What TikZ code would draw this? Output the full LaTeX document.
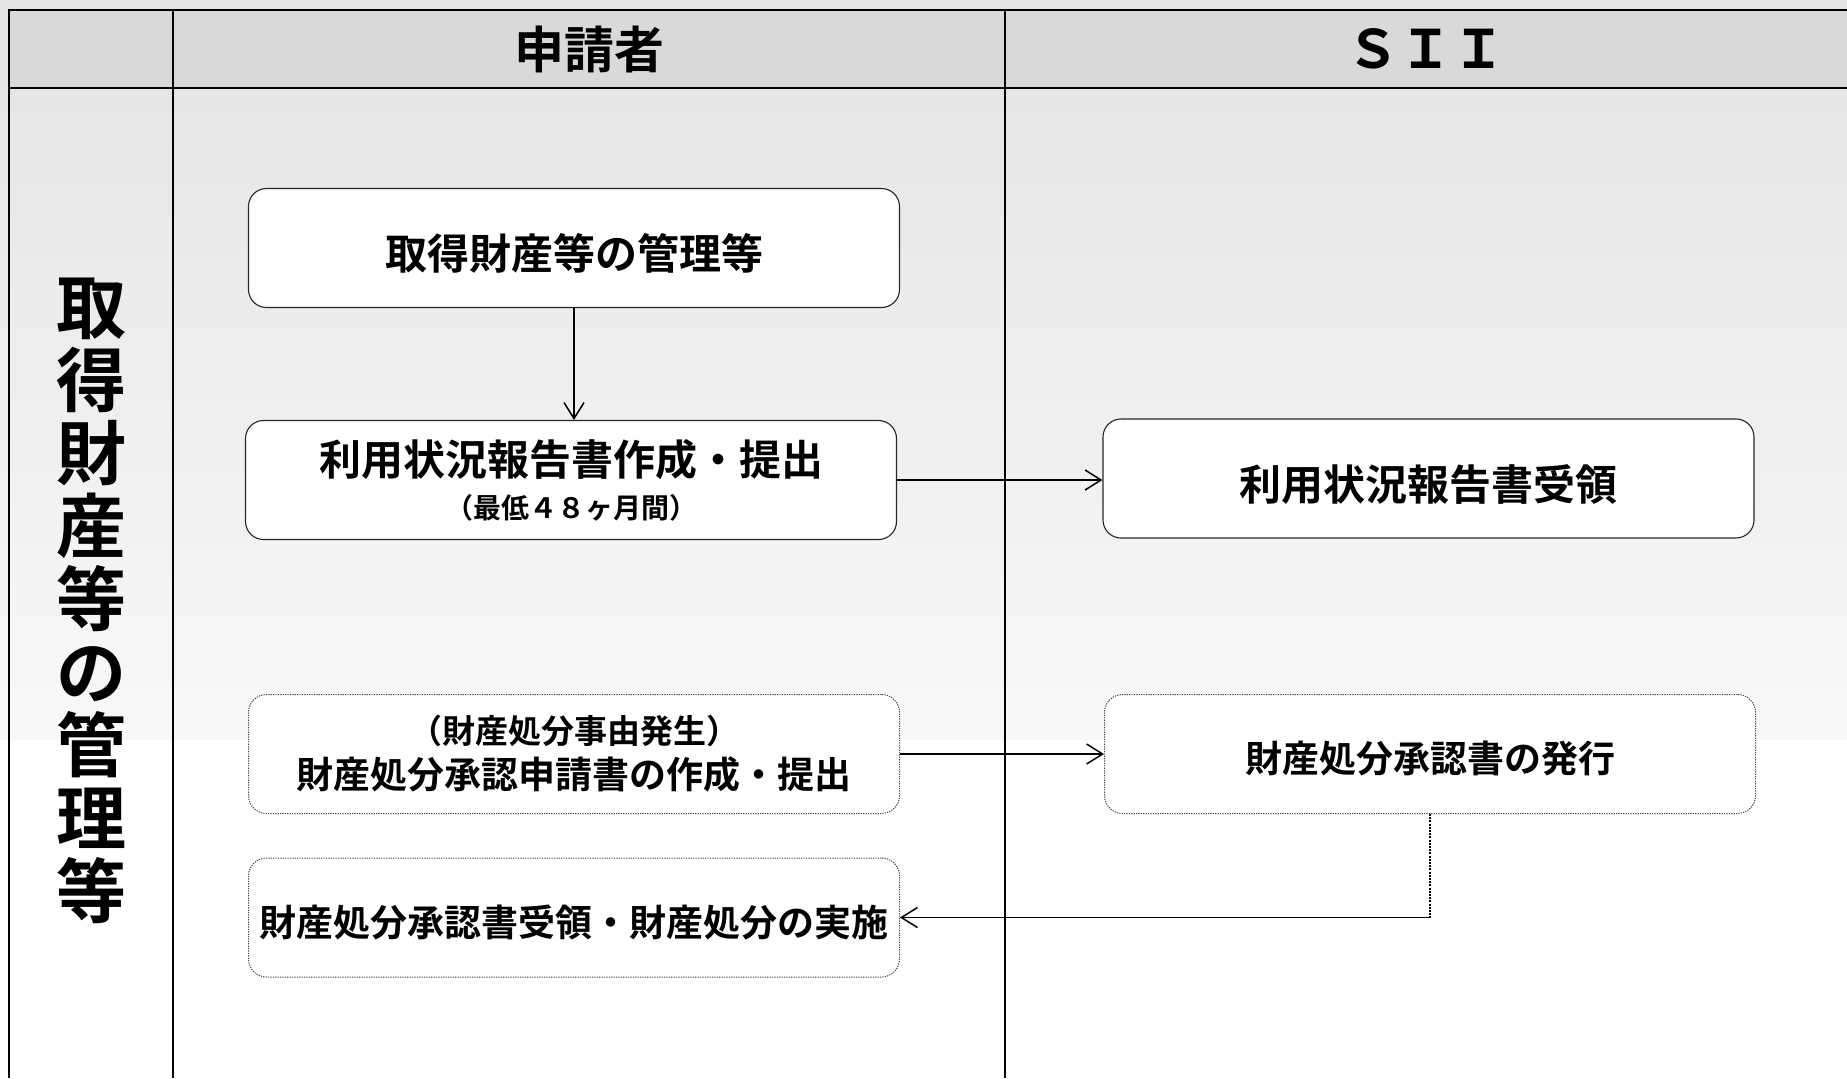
\documentclass[tikz,border=0pt]{standalone}
\usepackage{fontspec}
\setmainfont{Noto Sans CJK JP}[BoldFont={Noto Sans CJK JP Bold}]
\usetikzlibrary{arrows.meta}
\definecolor{topgray}{HTML}{E4E4E4}
\definecolor{hdrgray}{HTML}{D9D9D9}
\definecolor{bodytop}{HTML}{E6E6E6}
\definecolor{bodybot}{HTML}{F8F8F8}
\tikzset{
  frameline/.style={line width=1.25pt, black},
  boxbase/.style={rounded corners=9pt, fill=white, minimum width=325.5pt, minimum height=59.5pt, align=center, inner sep=0pt,
    execute at begin node={\rule{0pt}{1.12em}}},
  solidbox/.style={boxbase, draw=black!85, line width=0.55pt},
  dotbox/.style={boxbase, draw=black!75, line width=0.5pt, dash pattern=on 0.6pt off 0.6pt},
  flow/.style={line width=0.75pt, -{Straight Barb[length=8pt,width=10pt,line width=0.75pt]}},
  hdrtext/.style={font=\bfseries\fontsize{25}{30}\selectfont, inner sep=0pt},
}
\begin{document}
\begin{tikzpicture}[x=0.5pt,y=-0.5pt]
\useasboundingbox (0,0) rectangle (1847,1078);
% backgrounds
\fill[topgray] (0,0) rectangle (1847,10);
\fill[hdrgray] (0,10) rectangle (1847,88);
\shade[top color=bodytop, bottom color=bodybot] (0,88) rectangle (1847,740);
\fill[white] (0,740) rectangle (1847,1078);
\fill[topgray] (0,10) rectangle (9,88);
% frame lines
\draw[frameline] (9,1078) -- (9,10) -- (1847,10);
\draw[frameline] (9,88) -- (1847,88);
\draw[frameline] (173,10) -- (173,1078);
\draw[frameline] (1005,10) -- (1005,1078);
% headers
\node[hdrtext] (h1) at (589,49) {申請者};
\node[hdrtext, font=\bfseries\fontsize{26.5}{30}\selectfont] (h2) at (1426,49) {ＳＩＩ};
% vertical label
\node[align=center, inner sep=0pt, font=\bfseries\fontsize{35}{36.5}\selectfont] (lab) at (91,601)
  {取\\得\\財\\産\\等\\の\\管\\理\\等};
% boxes
\node[solidbox, font=\bfseries\fontsize{21}{25}\selectfont] (b1) at (574,248) {取得財産等の管理等};
\node[solidbox, font=\bfseries\fontsize{21}{21.5}\selectfont] (b2) at (571,480) {利用状況報告書作成・提出\\{\fontsize{14}{21.5}\selectfont （最低４８ヶ月間）}};
\node[solidbox, font=\bfseries\fontsize{21}{25}\selectfont] (b3) at (1428.5,478.5) {利用状況報告書受領};
\node[dotbox, font=\bfseries\fontsize{16.5}{22.5}\selectfont] (b4) at (574,754) {（財産処分事由発生）\\{\fontsize{18.5}{22.5}\selectfont 財産処分承認申請書の作成・提出}};
\node[dotbox, font=\bfseries\fontsize{18.5}{22}\selectfont] (b5) at (1430,754) {財産処分承認書の発行};
\node[dotbox, font=\bfseries\fontsize{18.5}{22}\selectfont] (b6) at (574,917.5) {財産処分承認書受領・財産処分の実施};
% connectors
\draw[flow] (b1.south) -- (b2.north -| b1.south);
\draw[flow] (b2.east) -- (b2.east -| b3.west);
\draw[flow] (b4.east) -- (b4.east -| b5.west);
\coordinate (c1) at (b5.south |- b6.east);
\draw[line width=0.75pt, dash pattern=on 1pt off 0.6pt] (b5.south) -- (c1);
\draw[flow] (c1) -- (b6.east);
\end{tikzpicture}
\end{document}
